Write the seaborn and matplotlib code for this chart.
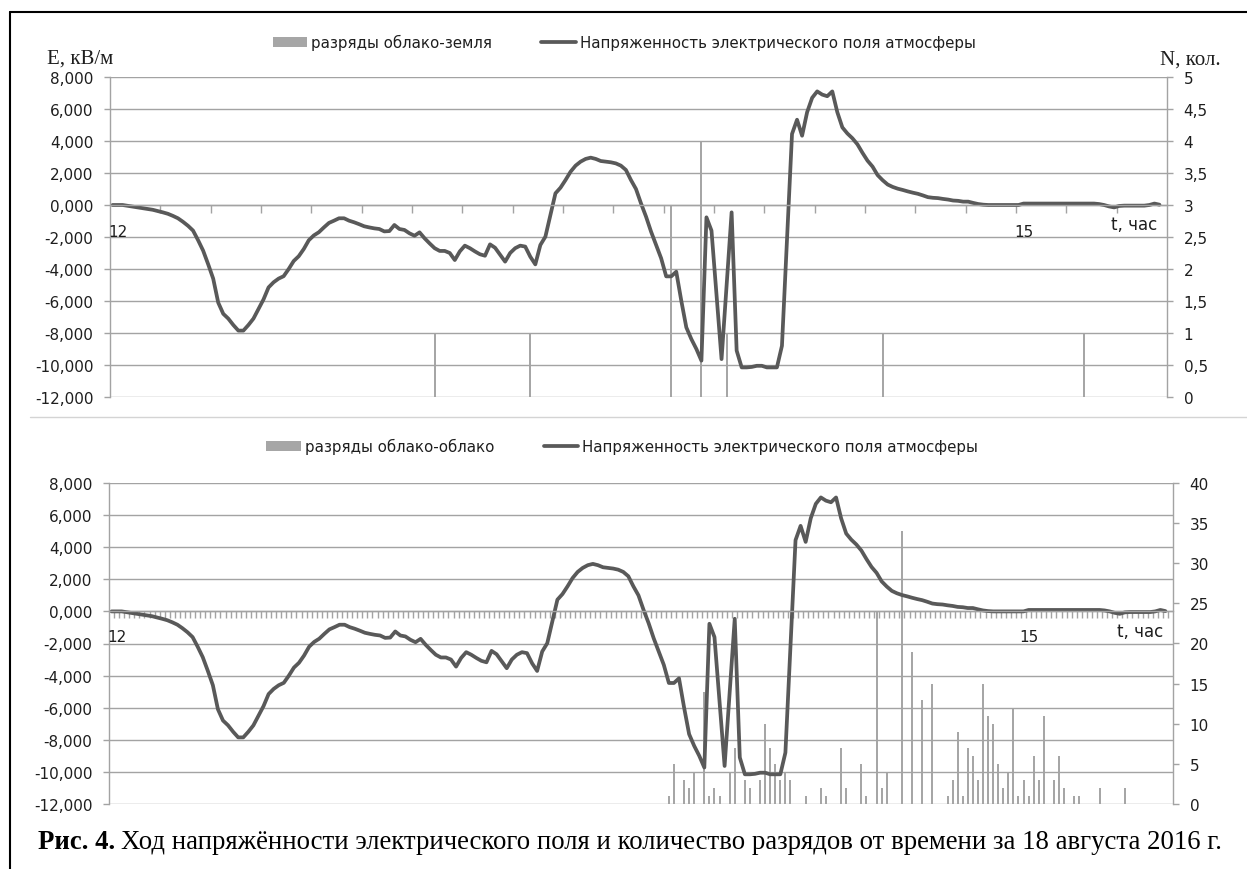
import numpy as np
import matplotlib
matplotlib.use("Agg")
import matplotlib.pyplot as plt
import seaborn as sns
import pandas as pd
from matplotlib.patches import Patch
from matplotlib.lines import Line2D
from matplotlib.ticker import FuncFormatter, FixedLocator, MultipleLocator

# ---------------- data ----------------
# minutes after 12:00
minutes = [0, 1, 2, 3, 4, 5, 6, 7, 8, 9, 10, 11, 12, 13, 14, 15, 16, 17, 18, 19,
           20, 21, 22, 23, 24, 25, 26, 27, 28, 29, 30, 31, 32, 33, 34, 35, 36, 37, 38, 39,
           40, 41, 42, 43, 44, 45, 46, 47, 48, 49, 50, 51, 52, 53, 54, 55, 56, 57, 58, 59,
           60, 61, 62, 63, 64, 65, 66, 67, 68, 69, 70, 71, 72, 73, 74, 75, 76, 77, 78, 79,
           80, 81, 82, 83, 84, 85, 86, 87, 88, 89, 90, 91, 92, 93, 94, 95, 96, 97, 98, 99,
           100, 101, 102, 103, 104, 105, 106, 107, 108, 109, 110, 111, 112, 113, 114, 115,
           116, 117, 118, 119, 121, 123, 124, 125, 126, 127, 128, 129, 130, 131, 132, 133,
           135, 136, 137, 138, 139, 140, 141, 142, 143, 144, 145, 146, 147, 148, 149, 150,
           151, 152, 153, 154, 155, 156, 157, 158, 159, 160, 161, 162, 163, 164, 165, 166,
           167, 168, 169, 170, 171, 172, 173, 174, 175, 176, 177, 178, 179, 180, 181, 182,
           183, 184, 185, 186, 187, 188, 189, 190, 191, 192, 193, 194, 195, 196, 197, 198,
           199, 200, 201, 202, 203, 204, 205, 206, 207, 208]
# atmospheric electric field strength, kV/m
field_kv = [0.0, 0.0, 0.0, -0.05, -0.1, -0.15, -0.2, -0.25, -0.3, -0.38, -0.46, -0.55, -0.68, -0.83, -1.05, -1.3, -1.6, -2.2, -2.85, -3.7,
            -4.6, -6.1, -6.8, -7.1, -7.5, -7.85, -7.85, -7.5, -7.1, -6.5, -5.9, -5.15, -4.83, -4.6, -4.45, -4.0, -3.5, -3.2, -2.75, -2.2,
            -1.9, -1.7, -1.4, -1.12, -0.98, -0.83, -0.83, -0.98, -1.08, -1.2, -1.33, -1.4, -1.46, -1.5, -1.65, -1.63, -1.25, -1.5, -1.56, -1.77,
            -1.92, -1.71, -2.08, -2.4, -2.7, -2.87, -2.87, -3.0, -3.44, -2.9, -2.54, -2.7, -2.9, -3.08, -3.17, -2.46, -2.67, -3.1, -3.54, -3.0,
            -2.7, -2.54, -2.6, -3.23, -3.71, -2.5, -1.98, -0.62, 0.73, 1.08, 1.56, 2.08, 2.46, 2.71, 2.88, 2.96, 2.88, 2.75, 2.71, 2.67,
            2.6, 2.46, 2.19, 1.56, 1.0, 0.1, -0.73, -1.67, -2.5, -3.33, -4.46, -4.46, -4.17, -5.98, -7.65, -8.38,
            -9.0, -9.73, -0.77, -1.6, -9.63, -0.46, -9.1, -10.15, -10.15, -10.12, -10.05, -10.05, -10.15, -10.15, -10.15, -8.8,
            4.44, 5.33, 4.33, 5.8, 6.7, 7.1, 6.9, 6.8, 7.1, 5.8, 4.85, 4.47, 4.17, 3.79, 3.26, 2.77,
            2.4, 1.87, 1.55, 1.28, 1.13, 1.02, 0.94, 0.85, 0.77, 0.7, 0.6, 0.49, 0.45, 0.43, 0.38, 0.34,
            0.28, 0.26, 0.21, 0.21, 0.13, 0.06, 0.02, 0.0, 0.0, 0.0, 0.0, 0.0, 0.0, 0.0, 0.09, 0.09,
            0.09, 0.09, 0.09, 0.09, 0.09, 0.09, 0.09, 0.09, 0.09, 0.09, 0.09, 0.09, 0.09, 0.06, 0.0, -0.09,
            -0.15, -0.06, -0.04, -0.04, -0.04, -0.04, -0.04, 0.0, 0.09, 0.02]

# cloud-to-ground discharges (count per minute)
cg_minutes = [64, 83, 111, 117, 122, 153, 193]
cg_counts = [1, 1, 3, 4, 1, 1, 1]

# cloud-to-cloud discharges (count per minute)
cc_minutes = [110, 111, 113, 114, 115, 117, 118, 119, 120, 122, 123, 125, 126,
              128, 129, 130, 131, 132, 133, 134, 137, 140, 141, 144, 145, 148, 149,
              151, 152, 153, 156, 158, 160, 162,
              165, 166, 167, 168, 169, 170, 171, 172, 173, 174, 175, 176, 177, 178, 179, 180,
              181, 182, 183, 184, 186, 187, 188, 190, 191, 195, 200]
cc_counts = [1, 5, 3, 2, 4, 14, 1, 2, 1, 4, 7, 3, 2,
             3, 10, 7, 5, 3, 4, 3, 1, 2, 1, 7, 2, 5, 1,
             24, 2, 4, 34, 19, 13, 15,
             1, 3, 9, 1, 7, 6, 3, 15, 11, 10, 5, 2, 4, 12, 1, 3,
             1, 6, 3, 11, 3, 6, 2, 1, 1, 2, 2]

hour_labels = ["12", "15"]
hour_label_pos = [1, 181]
legend_field = "Напряженность электрического поля атмосферы"
legend_cg = "разряды облако-земля"
legend_cc = "разряды облако-облако"
caption_bold = "Рис. 4."
caption_text = "Ход напряжённости электрического поля и количество разрядов от времени за 18 августа 2016 г."

# ---------------- style ----------------
sns.set_theme(style="white")
plt.rcParams['font.family'] = ['DejaVu Sans']

W, H = 1247, 870
fig = plt.figure(figsize=(W / 100, H / 100), dpi=100)
fig.patch.set_facecolor("white")

LINE_C = "#595959"
BAR_C = "#a6a6a6"
GRID_C = "#a3a3a3"
TXT_C = "#1e1e1e"

df_line = pd.DataFrame({"minute": minutes, "E": field_kv})

efmt = FuncFormatter(lambda v, p: f"{v:.3f}".replace(".", ","))
nfmt = FuncFormatter(lambda v, p: f"{v:g}".replace(".", ","))


def px_rect(x0, y0, x1, y1):
    return [x0 / W, 1 - y1 / H, (x1 - x0) / W, (y1 - y0) / H]


def panel(rect, bx, by, nmax, nstep, xticks, ticklen, label_y):
    axE = fig.add_axes(rect)
    axN = axE.twinx()
    axE.set_zorder(axN.get_zorder() + 1)
    axE.patch.set_visible(False)

    # bars (right axis)
    axN.bar(bx, by, width=0.4, color=BAR_C, linewidth=0)
    axN.set_ylim(0, nmax)
    axN.yaxis.set_major_locator(MultipleLocator(nstep))
    axN.yaxis.set_major_formatter(nfmt)
    for s in ["top", "bottom", "left"]:
        axN.spines[s].set_visible(False)
    axN.spines["right"].set_color(GRID_C)
    axN.spines["right"].set_linewidth(1.0)
    axN.tick_params(axis="y", right=True, direction="out", length=4, width=1,
                    color=GRID_C, labelsize=11, labelcolor=TXT_C, pad=8)

    # line (left axis)
    sns.lineplot(data=df_line, x="minute", y="E", ax=axE, color=LINE_C,
                 linewidth=2.7, estimator=None, sort=True)
    axE.set_xlim(-0.5, 209.5)
    axE.set_ylim(-12, 8)
    axE.yaxis.set_major_locator(MultipleLocator(2))
    axE.yaxis.set_major_formatter(efmt)
    axE.set_xlabel("")
    axE.set_ylabel("")
    axE.grid(axis="y", color=GRID_C, linewidth=1.0)
    axE.grid(axis="x", visible=False)
    axE.spines["top"].set_visible(False)
    axE.spines["right"].set_visible(False)
    axE.spines["left"].set_color(GRID_C)
    axE.spines["left"].set_linewidth(1.0)
    axE.spines["bottom"].set_position(("data", 0))
    axE.spines["bottom"].set_color(GRID_C)
    axE.spines["bottom"].set_linewidth(1.0)
    axE.tick_params(axis="y", left=True, direction="out", length=4, width=1,
                    color=GRID_C, labelsize=11, labelcolor=TXT_C, pad=8)
    axE.xaxis.set_major_locator(FixedLocator(xticks))
    axE.tick_params(axis="x", bottom=True, direction="out", length=ticklen, width=1,
                    color=GRID_C, labelbottom=False)
    for lab, pos in zip(hour_labels, hour_label_pos):
        axE.text(pos, label_y, lab, ha="center", va="center", fontsize=11, color=TXT_C)
    axE.text(203, -1.2, "t, час", ha="center", va="center", fontsize=12, color=TXT_C)
    return axE, axN


# top panel
panel(px_rect(110, 78, 1167, 398), cg_minutes, cg_counts, 5, 0.5,
      np.arange(9.5, 209, 10), 6, -1.63)
# bottom panel
panel(px_rect(109, 484, 1173, 805), cc_minutes, cc_counts, 40, 5,
      np.arange(0.5, 209, 1), 5, -1.55)

# legends
def add_legend(label_bar, y_px, x_px):
    handles = [Patch(facecolor=BAR_C, edgecolor="none"),
               Line2D([0], [0], color=LINE_C, linewidth=2.7)]
    fig.legend(handles, [label_bar, legend_field], loc="center",
               bbox_to_anchor=(x_px / W, 1 - y_px / H), ncol=2, frameon=False,
               fontsize=10.8, handlelength=2.3, handletextpad=0.25,
               columnspacing=3.3, labelcolor=TXT_C)

add_legend(legend_cg, 43, 624)
add_legend(legend_cc, 447, 622)

# axis titles
fig.text(80 / W, 1 - 59 / H, "E, кВ/м", family="Liberation Serif", fontsize=15,
         ha="center", va="center", color=TXT_C)
fig.text(1190 / W, 1 - 60 / H, "N, кол.", family="Liberation Serif", fontsize=15,
         ha="center", va="center", color=TXT_C)

# frame lines
fig.add_artist(Line2D([10 / W, 1], [1 - 13 / H] * 2, transform=fig.transFigure,
                      color="black", linewidth=1.5))
fig.add_artist(Line2D([10 / W] * 2, [0, 1 - 13 / H], transform=fig.transFigure,
                      color="black", linewidth=1.5))
fig.add_artist(Line2D([30 / W, 1], [1 - 418 / H] * 2, transform=fig.transFigure,
                      color="#d4d4d4", linewidth=1.0))

# caption
r = fig.canvas.get_renderer()
t1 = fig.text(38 / W, 1 - 843 / H, caption_bold, family="Liberation Serif",
              fontweight="bold", fontsize=19.3, ha="left", va="center", color="black")
bb = t1.get_window_extent(renderer=r)
fig.text((bb.x1 + 6) / W, 1 - 843 / H, caption_text, family="Liberation Serif",
         fontsize=19.3, ha="left", va="center", color="black")

fig.savefig("out.png", dpi=100)
